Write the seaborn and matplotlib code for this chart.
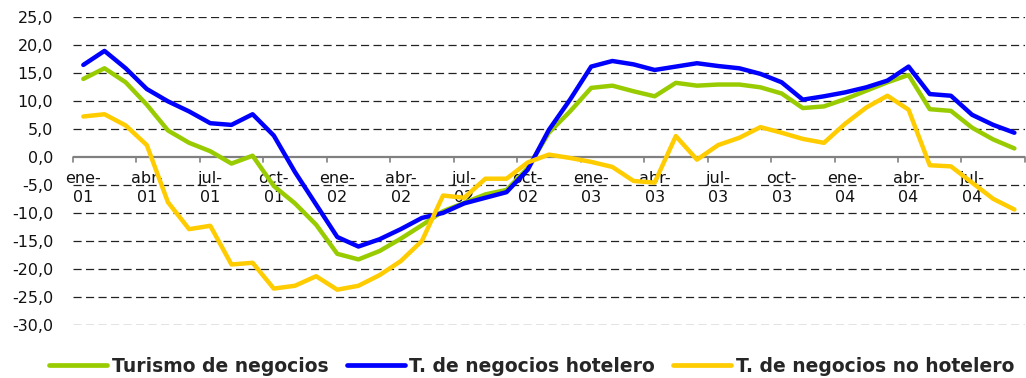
import numpy as np
import pandas as pd
import seaborn as sns
import matplotlib
matplotlib.use("Agg")
import matplotlib.pyplot as plt

# Monthly series, ene-01 .. sep-04 (year-on-year % change)
meses = ["ene", "feb", "mar", "abr", "may", "jun", "jul", "ago", "sep", "oct", "nov", "dic"]
anios = ["01", "02", "03", "04"]
periodos = [f"{m}-{a}" for a in anios for m in meses][:45]

turismo_negocios = [13.9, 15.8, 13.3, 9.3, 4.7, 2.5, 1.0, -1.2, 0.2, -5.2, -8.3, -12.1,
                    -17.3, -18.3, -16.8, -14.6, -12.2, -9.7, -8.2, -6.7, -5.9, -2.0, 4.3, 8.1,
                    12.3, 12.7, 11.7, 10.8, 13.2, 12.7, 12.9, 12.9, 12.4, 11.3, 8.7, 9.0,
                    10.3, 11.8, 13.3, 14.6, 8.5, 8.2, 5.2, 3.1, 1.5]
negocios_hotelero = [16.4, 18.9, 15.8, 12.1, 9.9, 8.1, 6.0, 5.7, 7.6, 3.8, -2.7, -8.5,
                     -14.3, -16.0, -14.7, -12.9, -10.9, -10.0, -8.3, -7.3, -6.3, -2.3, 4.8, 10.2,
                     16.1, 17.1, 16.5, 15.5, 16.1, 16.7, 16.2, 15.8, 14.8, 13.3, 10.2, 10.8,
                     11.5, 12.4, 13.6, 16.1, 11.2, 10.9, 7.5, 5.7, 4.3]
negocios_no_hotelero = [7.2, 7.6, 5.6, 2.1, -8.1, -12.9, -12.3, -19.2, -18.9, -23.5, -23.0, -21.3,
                        -23.7, -23.0, -21.1, -18.6, -15.0, -6.9, -7.3, -3.9, -3.9, -1.0, 0.4, -0.2,
                        -0.9, -1.8, -4.3, -4.6, 3.7, -0.5, 2.1, 3.4, 5.3, 4.3, 3.2, 2.5,
                        5.9, 8.8, 10.9, 8.4, -1.5, -1.7, -4.6, -7.5, -9.4]

series = ["Turismo de negocios", "T. de negocios hotelero", "T. de negocios no hotelero"]
colores = ["#99CC00", "#0000FF", "#FFCC00"]
y_ticks = [25, 20, 15, 10, 5, 0, -5, -10, -15, -20, -25, -30]

df = pd.DataFrame({
    "pos": list(range(len(periodos))) * 3,
    "valor": turismo_negocios + negocios_hotelero + negocios_no_hotelero,
    "serie": [s for s in series for _ in periodos],
})

sns.set_theme(style="white")
plt.rcParams["font.family"] = ["DejaVu Sans"]

fig = plt.figure(figsize=(10.26, 3.78), dpi=100)
ax = fig.add_axes([0.0709, 0.1402, 0.9281, 0.8156])

# dashed horizontal grid (except zero, which is the category axis)
for v in y_ticks:
    if v != 0:
        ax.axhline(v, color="#222222", lw=0.9, dashes=(6.5, 3.5), zorder=0)
ax.axhline(0, color="#808080", lw=1.6, zorder=1)

sns.lineplot(data=df, x="pos", y="valor", hue="serie", hue_order=series,
             palette=colores, linewidth=3.2, ax=ax, zorder=3,
             solid_joinstyle="round", solid_capstyle="round")

ax.set_xlim(-0.5, len(periodos) - 0.5)
ax.set_ylim(-30, 25)
for s in ax.spines.values():
    s.set_visible(False)

ax.set_yticks(y_ticks)
ax.set_yticklabels([f"{v:.1f}".replace(".", ",") for v in y_ticks], fontsize=11.5, color="#111111")
ax.tick_params(axis="y", length=0, pad=14)

# quarter tick marks on the zero line, labels under the first month of each quarter
ax.set_xticks([])
ax.set_xlabel("")
ax.set_ylabel("")
for b in np.arange(-0.5, len(periodos), 3):
    ax.plot([b, b], [0, -0.9], color="#808080", lw=1.2, zorder=1, clip_on=False)
for i in range(0, len(periodos), 3):
    m, a = periodos[i].split("-")
    ax.text(i, -2.6, f"{m}-\n{a}", ha="center", va="top", fontsize=11.5,
            color="#111111", linespacing=1.3, zorder=2)

leg = ax.legend(loc="center", bbox_to_anchor=(0.482, -0.133), ncol=3, frameon=False,
                handlelength=3.1, handletextpad=0.25, columnspacing=0.95,
                borderaxespad=0, borderpad=0,
                prop={"weight": "bold", "size": 13.5})
for h in leg.get_lines():
    h.set_linewidth(3.4)

fig.savefig("out.png", dpi=100)
